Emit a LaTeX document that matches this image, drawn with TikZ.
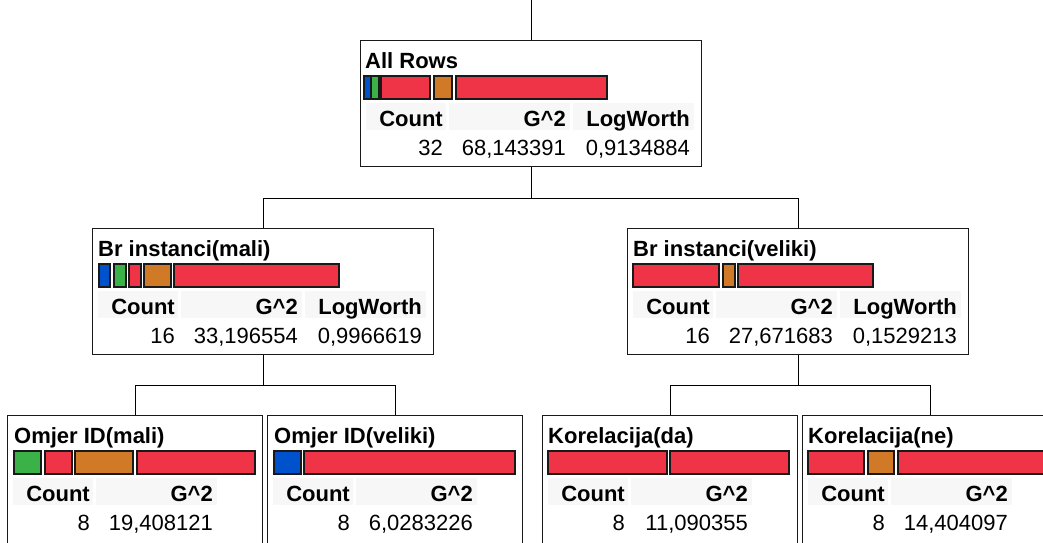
\documentclass[tikz,border=0pt]{standalone}
\usepackage{fontspec}
\setmainfont{Liberation Sans}
\definecolor{splitred}{RGB}{240, 52, 72}
\definecolor{splitblue}{RGB}{0, 82, 204}
\definecolor{splitgreen}{RGB}{59, 178, 72}
\definecolor{splitorange}{RGB}{208, 122, 40}
\definecolor{cellgray}{RGB}{247, 247, 247}
\usetikzlibrary{calc, positioning}

% bars of one split: node name, list of left/right/colour
\newcommand{\splitbars}[2]{%
  \foreach \a/\b/\c in {#2}
    \draw[bar, fill=\c] ($(#1.north west)+(\a,36)$) rectangle ($(#1.north west)+(\b,59)$);
}
% Count and G^2 columns: node name, count, G^2
\newcommand{\splittable}[3]{%
  \fill[cellgray] ($(#1.north west)+(6,63)$) rectangle ($(#1.north west)+(86,90)$);
  \fill[cellgray] ($(#1.north west)+(89,63)$) rectangle ($(#1.north west)+(210,90)$);
  \node[cell, head] (#1-ch) at ($(#1.north west)+(83,86)$) {Count};
  \node[cell, head] (#1-gh) at ($(#1.north west)+(206,86)$) {G\textasciicircum 2};
  \node[cell] (#1-c) at ($(#1.north west)+(83,115)$) {#2};
  \node[cell] (#1-g) at ($(#1.north west)+(206,115)$) {#3};
}
% LogWorth column: node name, value
\newcommand{\splitworth}[2]{%
  \fill[cellgray] ($(#1.north west)+(213,63)$) rectangle ($(#1.north west)+(334,90)$);
  \node[cell, head] (#1-lh) at ($(#1.north west)+(330,86)$) {LogWorth};
  \node[cell] (#1-l) at ($(#1.north west)+(330,115)$) {#2};
}

\begin{document}
\begin{tikzpicture}[
  x=1pt, y=-1pt,
  font=\fontsize{22}{26}\selectfont,
  splitbox/.style={draw=black!90, line width=1.4pt, fill=white, anchor=north west, minimum width=341pt, minimum height=126pt, inner sep=0pt},
  leafbox/.style={splitbox, minimum width=255pt, minimum height=150pt},
  head/.style={font=\fontsize{22}{26}\selectfont\bfseries},
  title/.style={anchor=base west, inner sep=0pt, head},
  cell/.style={anchor=base east, inner sep=0pt},
  bar/.style={draw=black!90, line width=1.3pt},
  link/.style={draw=black, line width=1.4pt}
]
  \useasboundingbox (0,0) rectangle (1043,542);
  \clip (0,0) rectangle (1043,542);

  % Root split
  \node[splitbox] (root) at (360,40) {};
  \node[title] (root-t) at ($(root.north west)+(5,28)$) {All Rows};
  \splitbars{root}{4/11/splitblue, 11/19/splitgreen, 21/70/splitred, 74/92/splitorange, 96/247/splitred}
  \splittable{root}{32}{68,143391}
  \splitworth{root}{0,9134884}

  % Second level
  \node[splitbox] (brmali) at (92,228) {};
  \node[title] (brmali-t) at ($(brmali.north west)+(6,28)$) {Br instanci(mali)};
  \splitbars{brmali}{7/18/splitblue, 22/34/splitgreen, 37/49/splitred, 52/79/splitorange, 82/247/splitred}
  \splittable{brmali}{16}{33,196554}
  \splitworth{brmali}{0,9966619}

  \node[splitbox] (brveliki) at (627,228) {};
  \node[title] (brveliki-t) at ($(brveliki.north west)+(6,28)$) {Br instanci(veliki)};
  \splitbars{brveliki}{6/92/splitred, 96/108/splitorange, 111/246/splitred}
  \splittable{brveliki}{16}{27,671683}
  \splitworth{brveliki}{0,1529213}

  % Leaves
  \node[leafbox] (omjmali) at (7,415) {};
  \node[title] (omjmali-t) at ($(omjmali.north west)+(7,28)$) {Omjer ID(mali)};
  \splitbars{omjmali}{7/34/splitgreen, 38/65/splitred, 68/126/splitorange, 130/248/splitred}
  \splittable{omjmali}{8}{19,408121}

  \node[leafbox] (omjveliki) at (267,415) {};
  \node[title] (omjveliki-t) at ($(omjveliki.north west)+(7,28)$) {Omjer ID(veliki)};
  \splitbars{omjveliki}{7/34/splitblue, 37/248/splitred}
  \splittable{omjveliki}{8}{6,0283226}

  \node[leafbox] (korda) at (542,415) {};
  \node[title] (korda-t) at ($(korda.north west)+(6,28)$) {Korelacija(da)};
  \splitbars{korda}{6/125/splitred, 128/247/splitred}
  \splittable{korda}{8}{11,090355}

  \node[leafbox] (korne) at (802,415) {};
  \node[title] (korne-t) at ($(korne.north west)+(6,28)$) {Korelacija(ne)};
  \splitbars{korne}{6/62/splitred, 66/92/splitorange, 96/250/splitred}
  \splittable{korne}{8}{14,404097}

  % Connectors
  \coordinate (stem) at (root.north |- 0,0);
  \draw[link] (stem) -- (root.north);
  \draw[link] (root.south) -- ++(0,31) coordinate (fork0);
  \draw[link] (fork0) -| (brmali.north);
  \draw[link] (fork0) -| (brveliki.north);
  \draw[link] (brmali.south) -- ++(0,30) coordinate (fork1);
  \draw[link] (fork1) -| (omjmali.north);
  \draw[link] (fork1) -| (omjveliki.north);
  \draw[link] (brveliki.south) -- ++(0,30) coordinate (fork2);
  \draw[link] (fork2) -| (korda.north);
  \draw[link] (fork2) -| (korne.north);
\end{tikzpicture}
\end{document}
